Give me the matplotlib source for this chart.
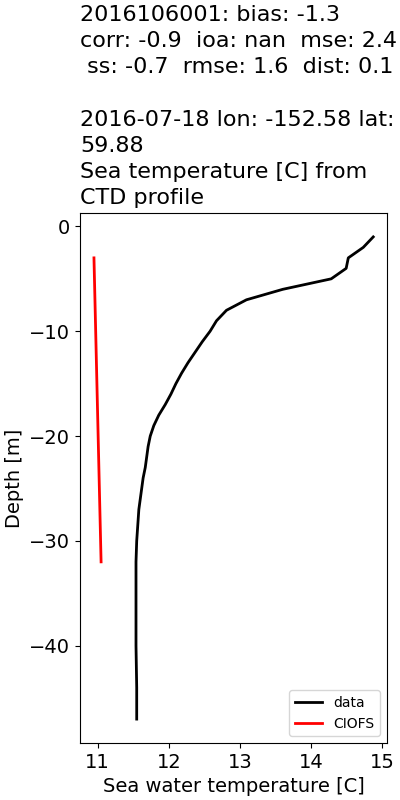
import matplotlib
matplotlib.use("Agg")
import matplotlib.pyplot as plt

# CTD profile (observed)
depth_obs = [-1, -2, -3, -4, -5, -6, -7, -8, -9, -10, -11, -12, -13, -14,
             -15, -16, -17, -18, -19, -20, -21, -22, -23, -24, -25, -26,
             -27, -28, -29, -30, -32, -34, -36, -40, -44, -47]
temp_obs = [14.87, 14.73, 14.52, 14.49, 14.28, 13.60, 13.09, 12.81, 12.67,
            12.58, 12.47, 12.37, 12.27, 12.18, 12.10, 12.03, 11.95, 11.86,
            11.79, 11.74, 11.71, 11.69, 11.67, 11.64, 11.62, 11.60, 11.58,
            11.57, 11.56, 11.55, 11.54, 11.54, 11.54, 11.54, 11.55, 11.55]

# model (CIOFS)
depth_mod = [-3, -32]
temp_mod = [10.95, 11.05]

title = ("2016106001: bias: -1.3\n"
         "corr: -0.9  ioa: nan  mse: 2.4\n"
         " ss: -0.7  rmse: 1.6  dist: 0.1\n"
         "\n"
         "2016-07-18 lon: -152.58 lat:\n"
         "59.88\n"
         "Sea temperature [C] from\n"
         "CTD profile")

fig, ax = plt.subplots(figsize=(4, 8), dpi=100)
fig.subplots_adjust(left=0.2, right=0.968, top=0.734, bottom=0.071)

ax.plot(temp_obs, depth_obs, color="black", lw=2, label="data")
ax.plot(temp_mod, depth_mod, color="red", lw=2, label="CIOFS")

ax.set_title(title, loc="left", fontsize=16, linespacing=1.39)
ax.set_xlabel("Sea water temperature [C]", fontsize=14)
ax.set_ylabel("Depth [m]", fontsize=14)
ax.tick_params(labelsize=14)
ax.legend(loc="lower right", fontsize=10)

fig.savefig("out.png")
